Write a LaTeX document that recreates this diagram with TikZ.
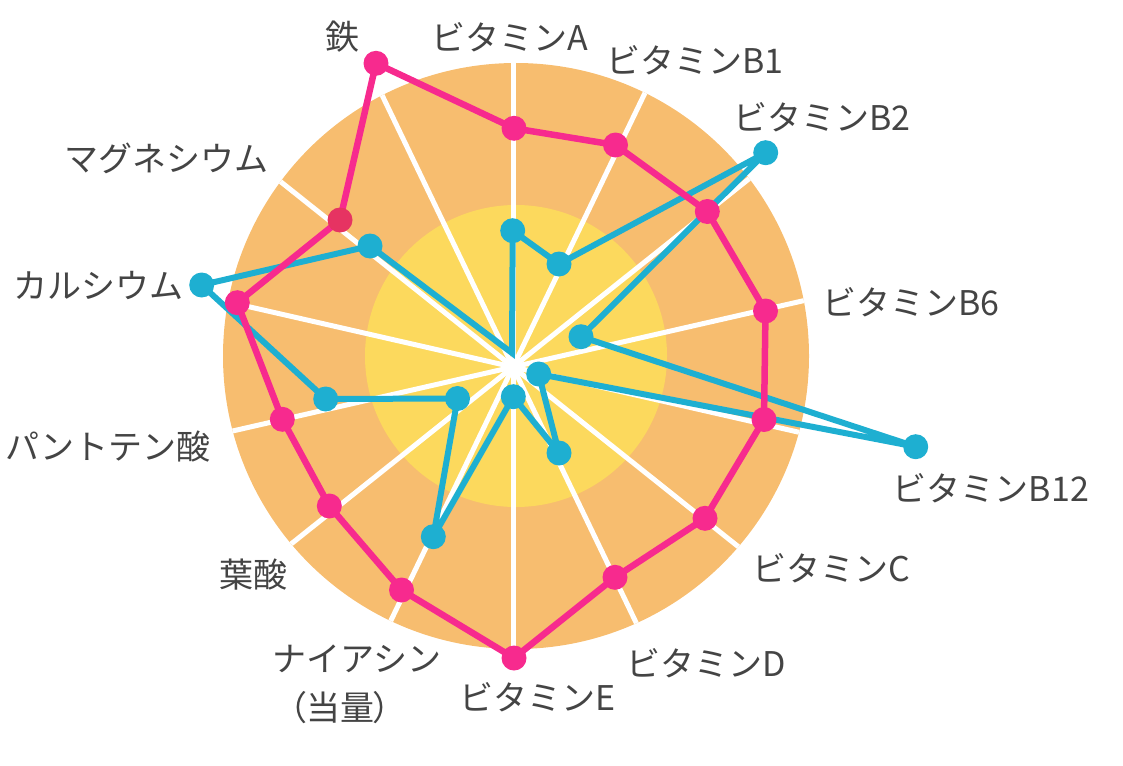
\documentclass[tikz,border=0pt]{standalone}
\usepackage{fontspec}
\setmainfont{Noto Sans CJK JP}
\usetikzlibrary{calc}
\definecolor{orangebg}{HTML}{F7BD6F}
\definecolor{yellowbg}{HTML}{FCD95D}
\definecolor{pinkc}{HTML}{F72A8E}
\definecolor{pinkdark}{HTML}{E63362}
\definecolor{bluec}{HTML}{1EAFD1}
\definecolor{textc}{HTML}{444444}
\begin{document}
\begin{tikzpicture}[x=1pt,y=-1pt,
  axisline/.style={white,line width=5pt},
  pline/.style={pinkc,line width=6.5pt,miter limit=3},
  bline/.style={bluec,line width=6pt,miter limit=3},
  pdot/.style={circle,fill=pinkc,minimum size=25pt,inner sep=0pt},
  bdot/.style={circle,fill=bluec,minimum size=25pt,inner sep=0pt},
  lab/.style={text=textc,font=\fontsize{34}{40}\selectfont,inner sep=0pt}]
\useasboundingbox (0,0) rectangle (1123,765);
\coordinate (cc) at (516,356);
\coordinate (ax) at (513,367);
\fill[orangebg] (cc) circle (293pt);
\fill[yellowbg] (cc) circle (151pt);
\begin{scope}
\clip (cc) circle (293pt);
\foreach \k in {0,...,13} {
  \draw[axisline] (ax) -- ($(ax)+({90-\k*360/14}:400pt)$);
}
\end{scope}
% blue data
\coordinate (bA) at (512.7,230.7);
\coordinate (bB1) at (559,264);
\coordinate (bB2) at (765.7,152.7);
\coordinate (bB6) at (581,336.7);
\coordinate (bB12) at (915.7,446.7);
\coordinate (bC) at (538.7,374);
\coordinate (bD) at (559,453);
\coordinate (bE) at (513.3,396.7);
\coordinate (bNi) at (433.3,536.7);
\coordinate (bFo) at (457.5,398.5);
\coordinate (bPa) at (325.7,399);
\coordinate (bCa) at (201.7,285);
\coordinate (bMg) at (370,246);
\coordinate (bFe) at (512,353);
\draw[bline] (bA) -- (bB1) -- (bB2) -- (bB6) -- (bB12) -- (bC) -- (bD) -- (bE) -- (bNi) -- (bFo) -- (bPa) -- (bCa) -- (bMg) -- (bFe) -- cycle;
\foreach \n in {A,B1,B2,B6,B12,C,D,E,Ni,Fo,Pa,Ca,Mg} {
  \node[bdot] (bd\n) at (b\n) {};
}
% pink data
\coordinate (pA) at (514,128.3);
\coordinate (pB1) at (615.5,145);
\coordinate (pB2) at (707.3,211.5);
\coordinate (pB6) at (765.5,311);
\coordinate (pB12) at (764,419.5);
\coordinate (pC) at (705,518.3);
\coordinate (pD) at (615,577.3);
\coordinate (pE) at (514,658);
\coordinate (pNi) at (401.5,590);
\coordinate (pFo) at (329.3,506);
\coordinate (pPa) at (282.3,419.3);
\coordinate (pCa) at (237.3,302.7);
\coordinate (pMg) at (340,220);
\coordinate (pFe) at (376,63.3);
\draw[pline] (pA) -- (pB1) -- (pB2) -- (pB6) -- (pB12) -- (pC) -- (pD) -- (pE) -- (pNi) -- (pFo) -- (pPa) -- (pCa) -- (pMg) -- (pFe) -- cycle;
\foreach \n in {A,B1,B2,B6,B12,C,D,E,Ni,Fo,Pa,Ca,Fe} {
  \node[pdot] (pd\n) at (p\n) {};
}
\node[pdot,fill=pinkdark] (pdMg) at (pMg) {};
% labels
\node[lab] (lFe) at (342,37) {鉄};
\node[lab] (lA) at (510,37) {ビタミンA};
\node[lab] (lB1) at (695,60) {ビタミンB1};
\node[lab] (lB2) at (822,117) {ビタミンB2};
\node[lab] (lB6) at (911,302) {ビタミンB6};
\node[lab] (lB12) at (991,488) {ビタミンB12};
\node[lab] (lC) at (831,568) {ビタミンC};
\node[lab] (lD) at (706,663) {ビタミンD};
\node[lab] (lE) at (538,697) {ビタミンE};
\node[lab] (lNi) at (357,659) {ナイアシン};
\node[lab] (lNi2) at (340,708) {\addfontfeatures{RawFeature=+palt}（当量）};
\node[lab] (lFo) at (253,575) {葉酸};
\node[lab] (lPa) at (108,447) {パントテン酸};
\node[lab] (lCa) at (98,286) {カルシウム};
\node[lab] (lMg) at (166,158) {マグネシウム};
\end{tikzpicture}
\end{document}
